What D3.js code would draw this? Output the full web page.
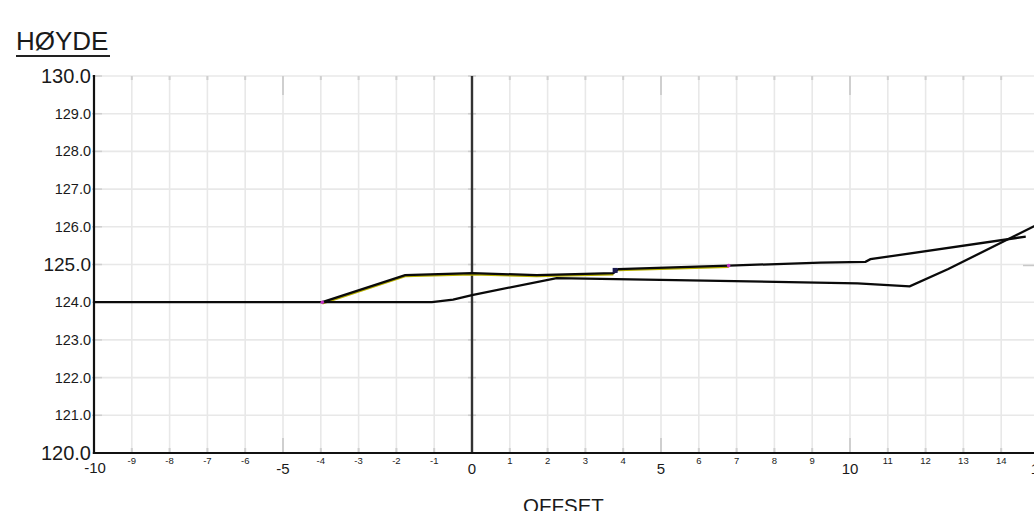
<!DOCTYPE html>
<html><head><meta charset="utf-8">
<script src="https://cdn.jsdelivr.net/npm/d3@7"></script>
<style>
html,body{margin:0;padding:0;background:#fff;overflow:hidden}
text{font-family:"Liberation Sans",Arial,sans-serif;fill:#1a1a1a}
</style></head>
<body><svg id="c" width="1034" height="511"></svg>
<script>
// ---- data ----
const xTicks = [-10,-9,-8,-7,-6,-5,-4,-3,-2,-1,0,1,2,3,4,5,6,7,8,9,10,11,12,13,14,15];
const xMajor = [-10,-5,0,5,10,15];
const yTicks = [120,121,122,123,124,125,126,127,128,129,130];
const yMajor = [120,125,130];
const yLabels = ["120.0","121.0","122.0","123.0","124.0","125.0","126.0","127.0","128.0","129.0","130.0"];

// existing terrain
const terrainX = [-10, -1.06, -0.5, 0, 2.24, 10.2, 11.58, 12.6, 15.0];
const terrainY = [124.0, 124.0, 124.07, 124.19, 124.64, 124.5, 124.42, 124.88, 126.08];
// design profile
const designX = [-3.96, -1.77, 0, 1.71, 3.74, 3.87, 6.79, 9.22, 10.41, 10.54, 14.65];
const designY = [124.0, 124.72, 124.77, 124.72, 124.77, 124.88, 124.97, 125.05, 125.07, 125.14, 125.74];
// highlighted (yellow) segments
const yellowA_X = [-3.96, -1.77, 0, 1.71, 3.74];
const yellowA_Y = [124.0, 124.72, 124.77, 124.72, 124.77];
const yellowB_X = [3.87, 6.79];
const yellowB_Y = [124.88, 124.97];
// point markers
const dotX = [-3.96, 6.79];
const dotY = [124.0, 124.97];
const markX = [3.8];
const markY = [124.83];

// ---- drawing ----
const svg = d3.select("#c");
const x = d3.scaleLinear().domain([-10,15]).range([94,1039]);
const y = d3.scaleLinear().domain([120,130]).range([453,76]);

// grid
const g = svg.append("g");
g.selectAll(".vg").data(xTicks).join("line")
  .attr("x1",d=>x(d)).attr("x2",d=>x(d)).attr("y1",y(130)).attr("y2",y(120))
  .attr("stroke","#e8e8e8").attr("stroke-width",1.6);
g.selectAll(".hg").data(yTicks).join("line")
  .attr("x1",x(-10)).attr("x2",1034).attr("y1",d=>y(d)).attr("y2",d=>y(d))
  .attr("stroke","#e8e8e8").attr("stroke-width",1.6);

// tick marks top & bottom
const tickCol = "#cfcfcf";
xTicks.filter(d=>d!==0 && d!==-10).forEach(d=>{
  const big = xMajor.includes(d);
  g.append("line").attr("x1",x(d)).attr("x2",x(d)).attr("y1",y(130)).attr("y2",y(130)+(big?19:4))
    .attr("stroke",tickCol).attr("stroke-width",2);
  g.append("line").attr("x1",x(d)).attr("x2",x(d)).attr("y1",y(120)).attr("y2",y(120)-(big?15:5))
    .attr("stroke",tickCol).attr("stroke-width",2);
});
// ticks on left axis and zero line
yTicks.forEach(d=>{
  g.append("line").attr("x1",x(-10)-2).attr("x2",x(-10)+8).attr("y1",y(d)).attr("y2",y(d))
    .attr("stroke","#cfcfcf").attr("stroke-width",1.5);
  g.append("line").attr("x1",x(0)-4).attr("x2",x(0)+4).attr("y1",y(d)).attr("y2",y(d))
    .attr("stroke","#cfcfcf").attr("stroke-width",1.5);
});
g.append("line").attr("x1",1023).attr("x2",1034).attr("y1",y(125)+1).attr("y2",y(125)+1)
  .attr("stroke","#c8c8c8").attr("stroke-width",1.5);

// zero line
svg.append("line").attr("x1",x(0)).attr("x2",x(0)).attr("y1",y(130)).attr("y2",y(120))
  .attr("stroke","#333").attr("stroke-width",2.4);
// axes
svg.append("line").attr("x1",x(-10)).attr("x2",x(-10)).attr("y1",y(130)-1).attr("y2",y(120)+1)
  .attr("stroke","#111").attr("stroke-width",2.2);
svg.append("line").attr("x1",x(-10)).attr("x2",1034).attr("y1",y(120)).attr("y2",y(120))
  .attr("stroke","#111").attr("stroke-width",2.2);

// y labels
yTicks.forEach((d,i)=>{
  const size = (d===120||d===130)?20:(d===125?19:14.5);
  svg.append("text").attr("x",91).attr("y",y(d)).attr("text-anchor","end")
    .attr("dominant-baseline","central").attr("font-size",size).text(yLabels[i]);
});
// x labels
xTicks.forEach(d=>{
  const big = xMajor.includes(d);
  svg.append("text").attr("x",x(d)+(d===-10?1:0)).attr("y",big?(d===-10?473:474):464)
    .attr("text-anchor","middle").attr("font-size",big?15:9.5).text(d);
});

// titles
svg.append("text").attr("x",16).attr("y",50).attr("font-size",26).text("HØYDE");
svg.append("line").attr("x1",16).attr("x2",110).attr("y1",56).attr("y2",56)
  .attr("stroke","#222").attr("stroke-width",2);
svg.append("text").attr("x",523).attr("y",513).attr("font-size",20.5).text("OFFSET");

// lines
const line = d3.line().x(d=>x(d[0])).y(d=>y(d[1]));
const zip = (a,b)=>a.map((v,i)=>[v,b[i]]);

[[yellowA_X,yellowA_Y],[yellowB_X,yellowB_Y]].forEach(([a,b])=>{
  svg.append("path").attr("d",line(zip(a,b))).attr("fill","none")
    .attr("stroke","#b8b000").attr("stroke-width",2.2).attr("transform","translate(0,1.2)");
});
svg.append("path").attr("d",line(zip(terrainX,terrainY))).attr("fill","none")
  .attr("stroke","#0a0a0a").attr("stroke-width",2.3);
svg.append("path").attr("d",line(zip(designX,designY))).attr("fill","none")
  .attr("stroke","#0a0a0a").attr("stroke-width",2.3);

svg.selectAll(".dot").data(zip(dotX,dotY)).join("circle")
  .attr("cx",d=>x(d[0])).attr("cy",d=>y(d[1])).attr("r",1.8).attr("fill","#c030c0");
svg.selectAll(".mk").data(zip(markX,markY)).join("rect")
  .attr("x",d=>x(d[0])-3).attr("y",d=>y(d[1])-3).attr("width",5).attr("height",5)
  .attr("fill","#1a1a50");
</script></body></html>
